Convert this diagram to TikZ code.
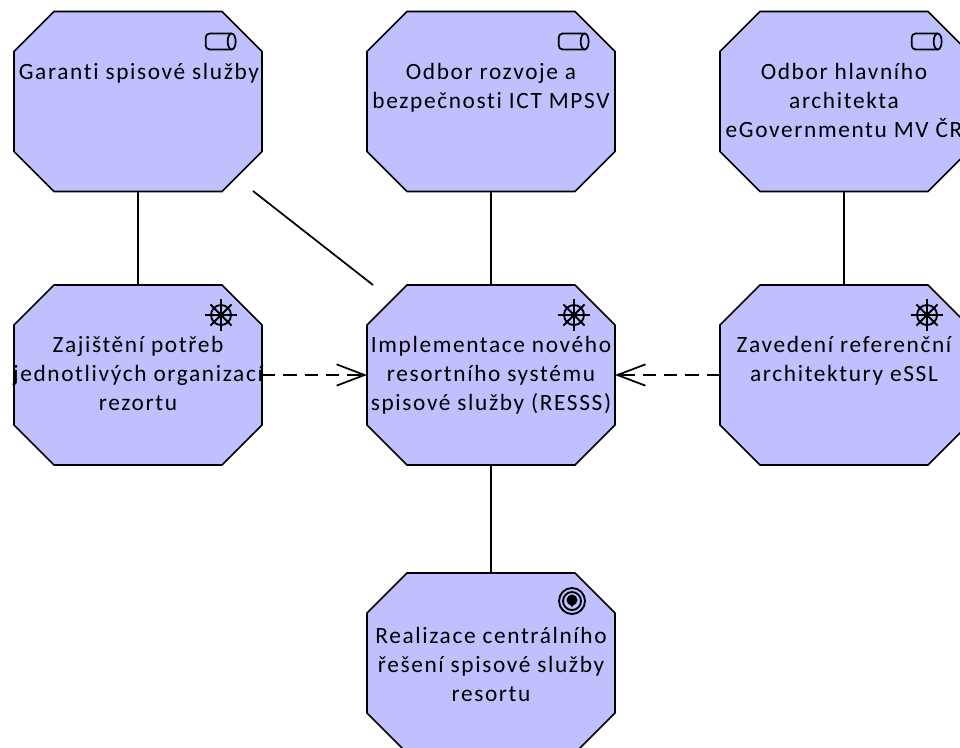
\documentclass[tikz,border=0pt]{standalone}
\usepackage{fontspec}
\setmainfont[LetterSpace=7,Ligatures=NoCommon]{Carlito}
\usetikzlibrary{arrows.meta,shapes.misc}
\definecolor{fialova}{HTML}{C0C0FF}
\tikzset{
	okto/.style={chamfered rectangle,chamfered rectangle xsep=15pt,chamfered rectangle ysep=15pt,draw=black,fill=fialova,line width=1.3pt,text width=156pt,text height=105pt,text depth=0pt,inner sep=0pt,outer sep=0pt},
	popis/.style={anchor=north,align=center,font=\fontsize{17.5pt}{21.8pt}\selectfont,inner sep=0pt},
	spoj/.style={line width=1.3pt},
	vztah/.style={line width=1.3pt,dash pattern=on 10pt off 6pt,-{Straight Barb[length=21pt,width=16pt,line width=1.3pt]}},
	valec/.pic={
		\draw[line width=1.3pt,rounded corners=3pt] (11,-8) -- (-15,-8) -- (-15,8) -- (11,8);
		\draw[line width=1.3pt] (11,0) ellipse (4 and 8);
	},
	kormidlo/.pic={
		\draw[line width=1.4pt] (0,0) circle (10);
		\foreach \a in {0,90,...,270} \draw[line width=1.4pt] (0,0) -- (\a:16);
		\foreach \a in {45,135,...,315} \draw[line width=1.4pt] (0,0) -- (\a:15);
		\fill (0,0) circle (3);
	},
	terc/.pic={
		\draw[line width=1.4pt] (0,0) circle (13);
		\draw[line width=1.4pt] (0,0) circle (9);
		\fill (0,-1) circle (5.5);
		\fill (-4,1) -- (0,6) -- (4,1) -- cycle;
	},
}
\begin{document}
\begin{tikzpicture}[x=0.75pt,y=-0.75pt]
	\useasboundingbox (0,0) rectangle (960,747);
	% horni rada
	\node[okto] (garanti) at (138,101.5) {};
	\node[okto] (rozvoj) at (491,101.5) {};
	\node[okto] (hlavni) at (844,101.5) {};
	% stredni rada
	\node[okto] (potreby) at (138,375) {};
	\node[okto] (resss) at (491,375) {};
	\node[okto] (zavedeni) at (844,375) {};
	% spodni rada
	\node[okto] (realizace) at (491,663) {};
	\coordinate (garantikonec) at (253,191);
	\coordinate (resssstart) at (373,285);
	\draw[spoj] (garanti.south) -- (potreby.north);
	\draw[spoj] (rozvoj.south) -- (resss.north);
	\draw[spoj] (hlavni.south) -- (zavedeni.north);
	\draw[spoj] (garantikonec) -- (resssstart);
	\draw[spoj] (resss.south) -- (realizace.north);
	\draw[vztah] (potreby.east) -- (resss.west);
	\draw[vztah] (zavedeni.west) -- (resss.east);
	% ikony
	\foreach \n in {garanti,rozvoj,hlavni}
		\pic at ([xshift=62pt,yshift=45pt]\n.center) {valec};
	\foreach \n in {potreby,resss,zavedeni}
		\pic at ([xshift=62.25pt,yshift=45pt]\n.center) {kormidlo};
	\pic at ([xshift=60.75pt,yshift=46.5pt]realizace.center) {terc};
	% texty
	\node[popis] (tgaranti) at (139,63) {Garanti spisové služby};
	\node[popis] (trozvoj) at (491,63) {Odbor rozvoje a\\bezpečnosti ICT MPSV};
	\node[popis] (thlavni) at (844,63) {Odbor hlavního\\architekta\\eGovernmentu MV ČR};
	\node[popis] (tpotreby) at (138,336) {Zajištění potřeb\\jednotlivých organizací\\rezortu};
	\node[popis] (tresss) at (491,336) {Implementace nového\\resortního systému\\spisové služby (RESSS)};
	\node[popis] (tzavedeni) at (844,336) {Zavedení referenční\\architektury eSSL};
	\node[popis] (trealizace) at (491,627) {Realizace centrálního\\řešení spisové služby\\resortu};
\end{tikzpicture}
\end{document}
